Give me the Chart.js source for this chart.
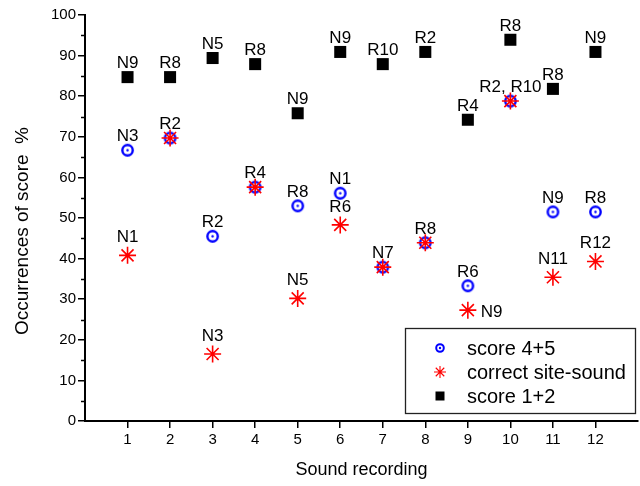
<!DOCTYPE html>
<html><head><meta charset="utf-8">
<script src="https://cdn.jsdelivr.net/npm/chart.js@4/dist/chart.umd.min.js"></script>
<style>html,body{margin:0;padding:0;background:#fff}#wrap{width:640px;height:486px}</style>
</head><body><div id="wrap"><canvas id="c" width="640" height="486"></canvas></div>
<script>
const recordings = [1,2,3,4,5,6,7,8,9,10,11,12];
const xTickValues = [1,2,3,4,5,6,7,8,9,10,11,12];
const yTickValues = [0,10,20,30,40,50,60,70,80,90,100];
const score45 = [66.7,69.7,45.5,57.6,53.0,56.1,37.9,43.9,33.3,78.8,51.5,51.5];
const correctSiteSound = [40.8,69.7,16.5,57.6,30.2,48.3,37.9,43.9,27.3,78.8,35.4,39.3];
const score12 = [84.7,84.7,89.4,87.9,75.8,90.9,87.9,90.9,74.2,93.9,81.8,90.9];
const score45Labels = ['N3','R2','R2','R4','R8','N1','N7','R8','R6','R2, R10','N9','R8'];
const correctLabels = ['N1',null,'N3',null,'N5','R6',null,null,'N9',null,'N11','R12'];
const score12Labels = ['N9','R8','N5','R8','N9','N9','R10','R2','R4','R8','R8','N9'];
const seriesNames = ['score 4+5','correct site-sound','score 1+2'];
const xTitle = 'Sound recording';
const yTitle = 'Occurrences of score  %';

function circleDot(r, lw){
  const s = Math.ceil(2*r+lw+2), c = document.createElement('canvas');
  c.width = s; c.height = s; const g = c.getContext('2d');
  g.strokeStyle = '#0000ff'; g.lineWidth = lw;
  g.beginPath(); g.arc(s/2, s/2, r, 0, Math.PI*2); g.stroke();
  g.fillStyle = '#0000ff'; g.beginPath(); g.arc(s/2, s/2, 1.2, 0, Math.PI*2); g.fill();
  return c;
}
const blueMarker = circleDot(5.2, 2.4);
const blueLegend = circleDot(3.8, 2);

const pts = xs => xs.map((v,i)=>({x: recordings[i], y: v}));
const F = 'Arial, "Liberation Sans", sans-serif';
const FN = '"Liberation Sans Narrow", "Arial Narrow", Arial, sans-serif';

const labelPlugin = {
  id: 'pointLabels',
  afterDatasetsDraw(chart){
    const ctx = chart.ctx;
    ctx.save();
    ctx.font = '17px ' + F; ctx.fillStyle = '#000';
    chart.data.datasets.forEach((ds, di) => {
      const meta = chart.getDatasetMeta(di);
      (ds.pointLabels||[]).forEach((t, i) => {
        if (!t) return;
        const el = meta.data[i];
        if (ds.labelRight && ds.labelRight[i]) {
          ctx.textAlign = 'left'; ctx.textBaseline = 'middle';
          ctx.fillText(t, el.x + 13, el.y + 2);
        } else {
          ctx.textAlign = 'center'; ctx.textBaseline = 'middle';
          ctx.fillText(t, el.x, el.y - ds.labelOffset);
        }
      });
    });
    ctx.restore();
  },
  afterDraw(chart){
    const ctx = chart.ctx, ys = chart.scales.y;
    ctx.save();
    ctx.strokeStyle = '#000'; ctx.lineWidth = 1.5;
    for (let v = 5; v < 100; v += 10) {
      const py = Math.round(ys.getPixelForValue(v)) + 0.5;
      ctx.beginPath(); ctx.moveTo(ys.right - 4, py); ctx.lineTo(ys.right, py); ctx.stroke();
    }
    ctx.save();
    ctx.translate(23, 231); ctx.rotate(-Math.PI/2);
    ctx.font = '19px ' + F; ctx.fillStyle = '#000';
    ctx.textAlign = 'center'; ctx.textBaseline = 'middle';
    ctx.fillText(yTitle, 0, 0);
    ctx.restore();
    const bx = 405, by = 328, bw = 230, bh = 85;
    ctx.fillStyle = '#fff'; ctx.fillRect(bx, by, bw, bh);
    ctx.strokeStyle = '#222'; ctx.lineWidth = 1.3;
    ctx.strokeRect(bx + 0.5, by + 0.5, bw, bh);
    const rows = [348, 372, 396], mx = 440;
    ctx.drawImage(blueLegend, mx - blueLegend.width/2, rows[0] - blueLegend.height/2);
    ctx.strokeStyle = '#ff0000'; ctx.lineWidth = 1.1;
    const r = 6;
    ctx.beginPath();
    ctx.moveTo(mx - r, rows[1]); ctx.lineTo(mx + r, rows[1]);
    ctx.moveTo(mx, rows[1] - r); ctx.lineTo(mx, rows[1] + r);
    const d = r * Math.SQRT1_2;
    ctx.moveTo(mx - d, rows[1] - d); ctx.lineTo(mx + d, rows[1] + d);
    ctx.moveTo(mx - d, rows[1] + d); ctx.lineTo(mx + d, rows[1] - d);
    ctx.stroke();
    ctx.fillStyle = '#000'; ctx.fillRect(mx - 4.5, rows[2] - 4.5, 9, 9);
    ctx.font = '20px ' + F; ctx.textAlign = 'left'; ctx.textBaseline = 'middle';
    seriesNames.forEach((n, i) => ctx.fillText(n, 467, rows[i] + 1));
    ctx.restore();
  }
};

new Chart(document.getElementById('c'), {
  type: 'scatter',
  data: { datasets: [
    { label: seriesNames[1], data: pts(correctSiteSound), pointLabels: correctLabels, labelOffset: 18,
      labelRight: [0,0,0,0,0,0,0,0,1,0,0,0],
      pointStyle: 'star', radius: 8.5, borderColor: '#ff0000', backgroundColor: '#ff0000', borderWidth: 1.6 },
    { label: seriesNames[0], data: pts(score45), pointLabels: score45Labels, labelOffset: 13.5,
      pointStyle: blueMarker, radius: 6 },
    { label: seriesNames[2], data: pts(score12), pointLabels: score12Labels, labelOffset: 13.5,
      pointStyle: 'rect', radius: 8.5, borderWidth: 0, backgroundColor: '#000', borderColor: '#000' }
  ]},
  options: {
    responsive: false, animation: false, events: [],
    layout: { autoPadding: false, padding: { left: 1, top: 15, right: 2, bottom: 0 } },
    plugins: { legend: { display: false }, tooltip: { enabled: false } },
    scales: {
      x: {
        type: 'linear', min: 0, max: 13,
        afterBuildTicks: s => { s.ticks = xTickValues.map(v => ({ value: v })); },
        afterFit: s => { s.height = 65; s.paddingLeft = 0; s.paddingRight = 0; },
        grid: { drawOnChartArea: false, drawTicks: true, tickLength: 7, color: '#000', lineWidth: 1.5 },
        border: { display: true, color: '#000', width: 2 },
        ticks: { color: '#000', font: { family: FN, size: 15 }, padding: 3, maxRotation: 0, autoSkip: false },
        title: { display: true, text: xTitle, color: '#000', font: { family: F, size: 18 }, padding: { top: 2, bottom: 5 } }
      },
      y: {
        min: 0, max: 100,
        afterBuildTicks: s => { s.ticks = yTickValues.map(v => ({ value: v })); },
        afterFit: s => { s.width = 84; s.paddingTop = 0; s.paddingBottom = 0; },
        grid: { drawOnChartArea: false, drawTicks: true, tickLength: 7, color: '#000', lineWidth: 1.5 },
        border: { display: true, color: '#000', width: 2 },
        ticks: { color: '#000', font: { family: F, size: 15 }, padding: 2 },
        title: { display: false }
      }
    }
  },
  plugins: [labelPlugin]
});
</script></body></html>
